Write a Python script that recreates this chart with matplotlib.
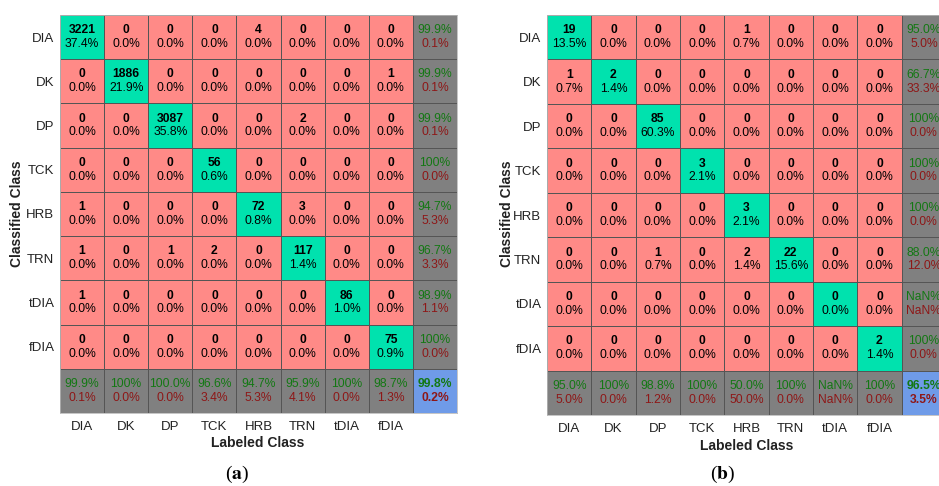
import numpy as np
import matplotlib
matplotlib.use("Agg")
import matplotlib.pyplot as plt
from matplotlib.colors import ListedColormap

plt.rcParams['font.family'] = ['Liberation Sans', 'DejaVu Sans']
plt.rcParams['mathtext.fontset'] = 'stix'

classes = ["DIA", "DK", "DP", "TCK", "HRB", "TRN", "tDIA", "fDIA"]

# rows = classified (output) class, columns = labeled (target) class
counts_a = [
    [3221, 0, 0, 0, 4, 0, 0, 0],
    [0, 1886, 0, 0, 0, 0, 0, 1],
    [0, 0, 3087, 0, 0, 2, 0, 0],
    [0, 0, 0, 56, 0, 0, 0, 0],
    [1, 0, 0, 0, 72, 3, 0, 0],
    [1, 0, 1, 2, 0, 117, 0, 0],
    [1, 0, 0, 0, 0, 0, 86, 0],
    [0, 0, 0, 0, 0, 0, 0, 75],
]
counts_b = [
    [19, 0, 0, 0, 1, 0, 0, 0],
    [1, 2, 0, 0, 0, 0, 0, 0],
    [0, 0, 85, 0, 0, 0, 0, 0],
    [0, 0, 0, 3, 0, 0, 0, 0],
    [0, 0, 0, 0, 3, 0, 0, 0],
    [0, 0, 1, 0, 2, 22, 0, 0],
    [0, 0, 0, 0, 0, 0, 0, 0],
    [0, 0, 0, 0, 0, 0, 0, 2],
]
panel_labels = ["a", "b"]

C_GREEN = "#00E2AE"
C_RED = "#FF8A87"
C_GRAY = "#808080"
C_BLUE = "#6F9BE8"
T_GREEN = "#137813"
T_RED = "#8E1717"
W, H = 939, 486
FS = 8.7


def fmt(v):
    if np.isnan(v):
        return "NaN%"
    if v == 100:
        return "100%"
    return f"{v:.1f}%"


def draw(ax, counts):
    m = np.array(counts, dtype=float)
    n = m.shape[0]
    total = m.sum()
    kind = np.zeros((n + 1, n + 1), dtype=int)  # 0 red, 1 green, 2 gray, 3 blue
    for i in range(n):
        kind[i, i] = 1
    kind[n, :] = 2
    kind[:, n] = 2
    kind[n, n] = 3
    cmap = ListedColormap([C_RED, C_GREEN, C_GRAY, C_BLUE])
    ax.pcolormesh(np.arange(n + 2) - 0.5, np.arange(n + 2) - 0.5, kind,
                  cmap=cmap, vmin=-0.5, vmax=3.5,
                  edgecolors="#555555", linewidth=0.6)
    ax.set_xlim(-0.5, n + 0.5)
    ax.set_ylim(n + 0.5, -0.5)
    dy = 0.155
    for i in range(n):
        for j in range(n):
            ax.text(j, i - dy, f"{int(m[i, j])}", ha="center", va="center",
                    fontsize=FS, fontweight="bold", color="black")
            ax.text(j, i + dy, f"{m[i, j] / total * 100:.1f}%", ha="center",
                    va="center", fontsize=FS, color="black")
    with np.errstate(invalid="ignore", divide="ignore"):
        row_acc = np.diag(m) / m.sum(axis=1) * 100
        col_acc = np.diag(m) / m.sum(axis=0) * 100
    for i in range(n):
        a = row_acc[i]
        ax.text(n, i - dy, fmt(a), ha="center", va="center", fontsize=FS, color=T_GREEN)
        ax.text(n, i + dy, fmt(100 - a), ha="center", va="center", fontsize=FS, color=T_RED)
    for j in range(n):
        a = col_acc[j]
        ax.text(j, n - dy, fmt(a), ha="center", va="center", fontsize=FS, color=T_GREEN)
        ax.text(j, n + dy, fmt(100 - a), ha="center", va="center", fontsize=FS, color=T_RED)
    ov = np.trace(m) / total * 100
    ax.text(n, n - dy, fmt(ov), ha="center", va="center", fontsize=FS,
            fontweight="bold", color=T_GREEN)
    ax.text(n, n + dy, fmt(100 - ov), ha="center", va="center", fontsize=FS,
            fontweight="bold", color=T_RED)
    ax.set_xticks(range(n))
    ax.set_xticklabels(classes)
    ax.set_yticks(range(n))
    ax.set_yticklabels(classes)
    ax.tick_params(length=0, labelsize=9.5, pad=4, colors="#222222")
    ax.tick_params(axis="x", pad=6)
    for s in ax.spines.values():
        s.set_color("#bbbbbb")
        s.set_linewidth(0.6)


fig = plt.figure(figsize=(W / 100, H / 100), dpi=100)

boxes = [(60, 15, 457, 413), (547, 15, 946, 415)]
ylab_x = [17, 507]
xlab = [(258, 443), (747, 446)]
plab = [(237, 474), (723, 474)]

for k, counts in enumerate([counts_a, counts_b]):
    x0, y0, x1, y1 = boxes[k]
    ax = fig.add_axes([x0 / W, 1 - y1 / H, (x1 - x0) / W, (y1 - y0) / H])
    draw(ax, counts)
    fig.text(ylab_x[k] / W, 1 - 214 / H, "Classified Class", rotation=90,
             ha="center", va="center", fontsize=10, fontweight="bold", color="#222222")
    fig.text(xlab[k][0] / W, 1 - xlab[k][1] / H, "Labeled Class", ha="center",
             va="center", fontsize=10, fontweight="bold", color="#222222")
    fig.text(plab[k][0] / W, 1 - plab[k][1] / H, r"($\mathbf{%s}$)" % panel_labels[k],
             ha="center", va="center", fontsize=14, family="Liberation Serif")

fig.savefig("out.png", dpi=100)
